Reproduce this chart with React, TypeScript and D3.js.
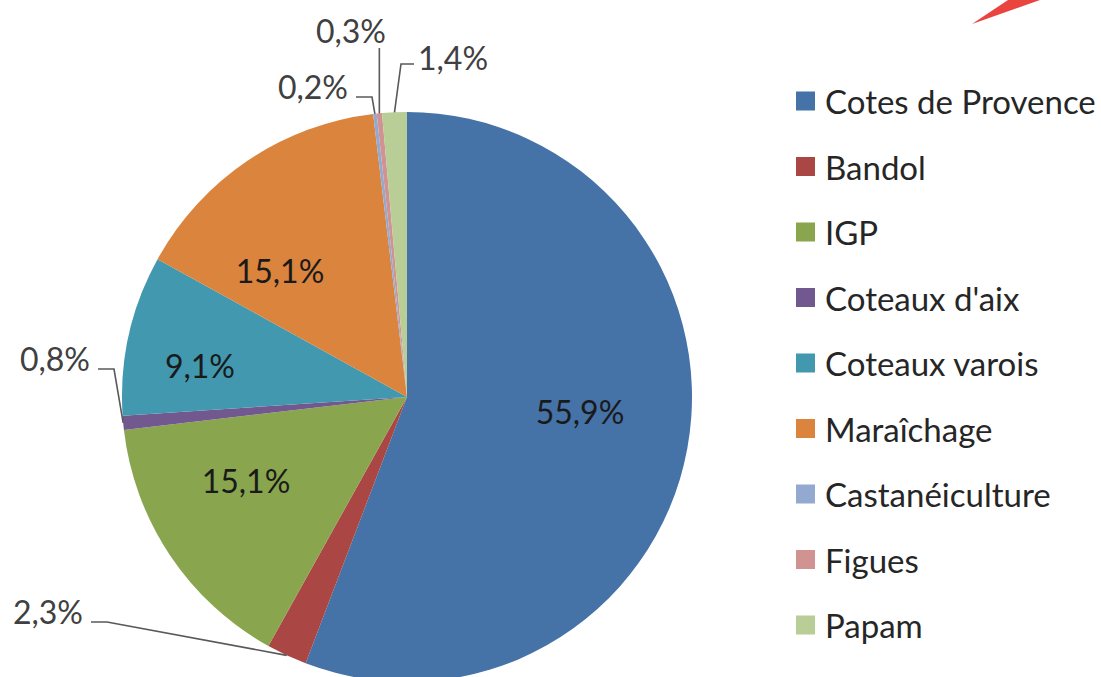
import React from "react";
import * as d3 from "d3";

const categories = [
  "Cotes de Provence",
  "Bandol",
  "IGP",
  "Coteaux d'aix",
  "Coteaux varois",
  "Maraîchage",
  "Castanéiculture",
  "Figues",
  "Papam",
];
const values = [55.9, 2.3, 15.1, 0.8, 9.1, 15.1, 0.2, 0.3, 1.4];
const colors = [
  "#4572A7",
  "#AA4643",
  "#89A54E",
  "#71588F",
  "#4198AF",
  "#DB843D",
  "#93A9CF",
  "#D19392",
  "#B9CD96",
];
// label placement, offsets from the pie centre
const labelLayout: { dx: number; dy: number; side: "in" | "left" | "right" | "top" }[] = [
  { dx: 173, dy: 14, side: "in" },
  { dx: -324, dy: 214, side: "left" },
  { dx: -161, dy: 83, side: "in" },
  { dx: -317, dy: -39, side: "left" },
  { dx: -207, dy: -32, side: "in" },
  { dx: -127, dy: -127, side: "in" },
  { dx: -59, dy: -311, side: "left" },
  { dx: -56, dy: -367, side: "top" },
  { dx: 11, dy: -340, side: "right" },
];

const W = 1101;
const H = 677;
const cx = 407;
const cy = 397;
const R = 285;
const FONT = "Lato, 'Open Sans', sans-serif";

const fmt = (v: number) => v.toFixed(1).replace(".", ",") + "%";

export default function App() {
  const pie = d3
    .pie<number>()
    .value((d) => d)
    .sort(null)
    .startAngle(0)
    .endAngle(2 * Math.PI);
  const arcs = pie(values);
  const arc = d3.arc<d3.PieArcDatum<number>>().innerRadius(0).outerRadius(R);

  const labelFs = 32;

  return (
    <svg width={W} height={H} style={{ position: "absolute", left: 0, top: 0 }}>
      <rect width={W} height={H} fill="#ffffff" />
      {/* decorative red streak, top right */}
      <path d="M972,24 L1008,0 L1040,0 Z" fill="#e8302a" opacity={0.9} />
      <g transform={`translate(${cx},${cy})`}>
        {arcs.map((a, i) => (
          <path key={i} d={arc(a) || ""} fill={colors[i]} />
        ))}
      </g>
      {arcs.map((a, i) => {
        const lay = labelLayout[i];
        const mid = (a.startAngle + a.endAngle) / 2;
        const tx = cx + lay.dx;
        const ty = cy + lay.dy;
        if (lay.side === "in") {
          return (
            <text key={i} x={tx} y={ty} textAnchor="middle" dominantBaseline="central" fontFamily={FONT} fontSize={labelFs} fill="#1a1a1a">
              {fmt(values[i])}
            </text>
          );
        }
        const ax = cx + R * Math.sin(mid);
        const ay = cy - R * Math.cos(mid);
        let pts: [number, number][];
        let anchor: "start" | "end" | "middle";
        if (lay.side === "left") {
          anchor = "end";
          const ly = ty + 11;
          pts = [
            [tx + 8, ly],
            [tx + 24, ly],
            [ax, ay],
          ];
        } else if (lay.side === "right") {
          anchor = "start";
          const ly = ty + 7;
          pts = [
            [tx - 4, ly],
            [tx - 17, ly],
            [ax, ay],
          ];
        } else {
          anchor = "middle";
          pts = [
            [ax, ty + 18],
            [ax, ay],
          ];
        }
        return (
          <g key={i}>
            <polyline points={pts.map((p) => p.join(",")).join(" ")} fill="none" stroke="#595959" strokeWidth={1.6} />
            <text x={tx} y={ty} textAnchor={anchor} dominantBaseline="central" fontFamily={FONT} fontSize={labelFs} fill="#404040">
              {fmt(values[i])}
            </text>
          </g>
        );
      })}
      <g>
        {categories.map((c, i) => {
          const y = 101 + i * 65.5;
          return (
            <g key={c}>
              <rect x={796} y={y - 9.5} width={19} height={19} fill={colors[i]} />
              <text x={825} y={y} dominantBaseline="central" fontFamily={FONT} fontSize={33} fill="#262626">
                {c}
              </text>
            </g>
          );
        })}
      </g>
    </svg>
  );
}
